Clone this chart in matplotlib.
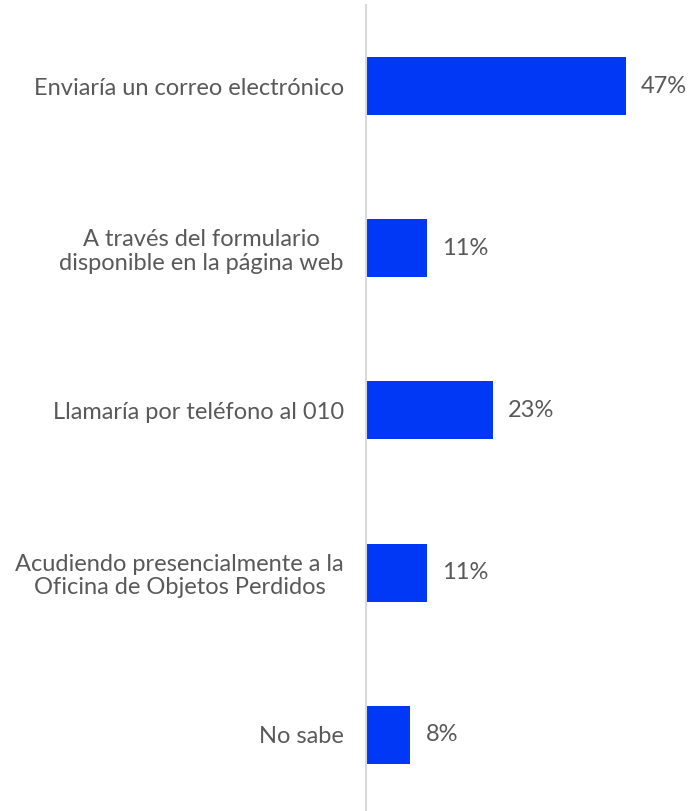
import numpy as np
from matplotlib import pyplot as plt

plt.rcParams['font.family'] = ['Lato', 'DejaVu Sans']

categories = ["Enviaría un correo electrónico",
              "A través del formulario\ndisponible en la página web",
              "Llamaría por teléfono al 010",
              "Acudiendo presencialmente a la\nOficina de Objetos Perdidos",
              "No sabe"]
values = [47, 11, 23, 11, 8]

blue = '#0038F5'
grey = '#595959'

fig = plt.figure(figsize=(6.92, 8.11), dpi=100)
ax = fig.add_axes([366/692, 0, 326/692, 806/811])

y = np.arange(len(values))
ax.barh(y, values, height=0.357, color=blue)
ax.set_xlim(0, 59)
ax.set_ylim(4.47, -0.5)

for yi, v in zip(y, values):
    ax.annotate(f"{v}%", (v, yi), xytext=(11, 0), textcoords='offset points',
                va='center', ha='left', fontsize=17, color=grey)

ax.set_yticks(y)
ax.set_yticklabels(categories, fontsize=17, color=grey, multialignment='center',
                   linespacing=1.15)
ax.tick_params(axis='y', length=0, pad=16)
ax.set_xticks([])
for s in ['top', 'right', 'bottom']:
    ax.spines[s].set_visible(False)
ax.spines['left'].set_color('#d9d9d9')
ax.spines['left'].set_linewidth(1.5)

fig.savefig('out.png', dpi=100)
